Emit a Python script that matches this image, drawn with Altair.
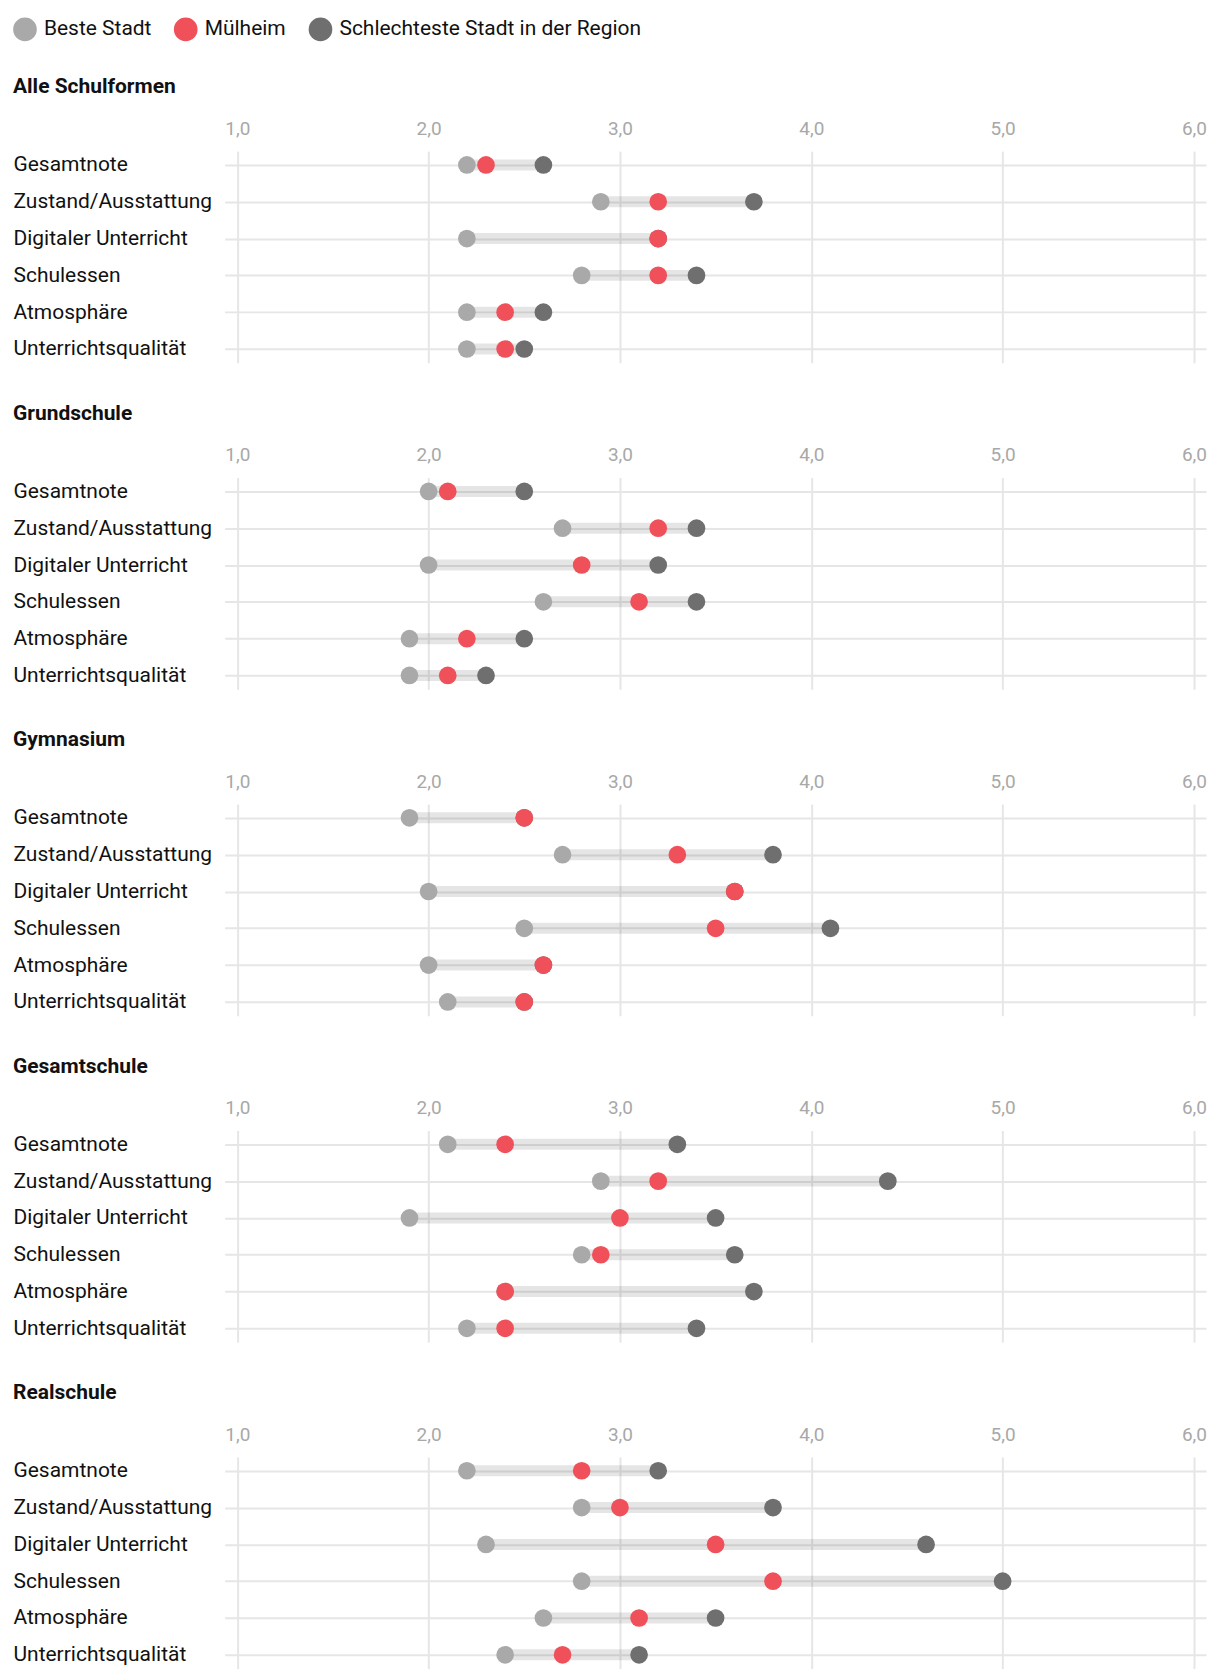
import altair as alt
import pandas as pd

sections = ["Alle Schulformen", "Grundschule", "Gymnasium", "Gesamtschule", "Realschule"]
kriterien = ["Gesamtnote", "Zustand/Ausstattung", "Digitaler Unterricht",
             "Schulessen", "Atmosphäre", "Unterrichtsqualität"]
serien = ["Beste Stadt", "Mülheim", "Schlechteste Stadt in der Region"]
farben = ["#a9a9a9", "#ef505a", "#6f6f6f"]
ticks = [1, 2, 3, 4, 5, 6]

# values grouped per section (6 criteria each)
beste_stadt = [
    2.2, 2.9, 2.2, 2.8, 2.2, 2.2,
    2.0, 2.7, 2.0, 2.6, 1.9, 1.9,
    1.9, 2.7, 2.0, 2.5, 2.0, 2.1,
    2.1, 2.9, 1.9, 2.8, 2.4, 2.2,
    2.2, 2.8, 2.3, 2.8, 2.6, 2.4,
]
muelheim = [
    2.3, 3.2, 3.2, 3.2, 2.4, 2.4,
    2.1, 3.2, 2.8, 3.1, 2.2, 2.1,
    2.5, 3.3, 3.6, 3.5, 2.6, 2.5,
    2.4, 3.2, 3.0, 2.9, 2.4, 2.4,
    2.8, 3.0, 3.5, 3.8, 3.1, 2.7,
]
schlechteste = [
    2.6, 3.7, 3.2, 3.4, 2.6, 2.5,
    2.5, 3.4, 3.2, 3.4, 2.5, 2.3,
    2.5, 3.8, 3.6, 4.1, 2.6, 2.5,
    3.3, 4.4, 3.5, 3.6, 3.7, 3.4,
    3.2, 3.8, 4.6, 5.0, 3.5, 3.1,
]

FONT = "Roboto"

wide_rows = []
long_rows = []
for si, sec in enumerate(sections):
    for ki, k in enumerate(kriterien):
        i = si * len(kriterien) + ki
        wide_rows.append({"sec": sec, "kat": k, "best": beste_stadt[i], "worst": schlechteste[i]})
        # draw order: best, worst, then Mülheim on top
        long_rows.append({"sec": sec, "kat": k, "serie": serien[0], "wert": beste_stadt[i]})
        long_rows.append({"sec": sec, "kat": k, "serie": serien[2], "wert": schlechteste[i]})
        long_rows.append({"sec": sec, "kat": k, "serie": serien[1], "wert": muelheim[i]})
wide = pd.DataFrame(wide_rows)
long = pd.DataFrame(long_rows)

xscale = alt.Scale(domain=[0.934, 6.063], nice=False, zero=False)
yscale = alt.Scale(type="point", padding=0.375)

def panel(sec, first):
    xaxis = alt.Axis(orient="top", values=ticks, grid=True, gridColor="#e6e6e6", gridWidth=2,
                     domain=False, ticks=False, tickSize=0, labelPadding=17,
                     labelBaseline="alphabetic", labelFontSize=19, labelColor="#a8a8a8",
                     labelFont=FONT, title=None,
                     labelExpr="replace(format(datum.value, '.1f'), '.', ',')")
    yaxis = alt.Axis(grid=True, gridColor="#e6e6e6", gridWidth=2, domain=False, ticks=False,
                     tickSize=0, labelAlign="left", labelPadding=212, labelFontSize=21,
                     labelLimit=0, labelColor="#111111", labelFont=FONT, title=None)
    band = alt.Chart(wide[wide.sec == sec]).mark_rule(
        strokeWidth=11, color="black", opacity=0.1
    ).encode(
        x=alt.X("best:Q", scale=xscale, axis=xaxis),
        x2="worst:Q",
        y=alt.Y("kat:N", sort=kriterien, scale=yscale, axis=yaxis),
    )
    pts = alt.Chart(long[long.sec == sec]).mark_circle(size=314, opacity=1).encode(
        x=alt.X("wert:Q", scale=xscale),
        y=alt.Y("kat:N", sort=kriterien, scale=yscale),
        color=alt.Color("serie:N", scale=alt.Scale(domain=serien, range=farben),
                        legend=alt.Legend(orient="none", legendX=-212, legendY=-134,
                                          direction="horizontal", title=None,
                                          symbolType="circle", symbolSize=560,
                                          symbolStrokeWidth=0, labelFontSize=21,
                                          labelFont=FONT, labelColor="#111111",
                                          labelLimit=0, labelOffset=7, columnPadding=22) if first else None),
    )
    return alt.layer(band, pts).properties(
        width=983, height=212,
        title=alt.TitleParams(text=sec, anchor="start", frame="bounds", fontSize=21,
                              fontWeight="bold", font=FONT, color="#111111", offset=22),
    )

chart = alt.vconcat(*[panel(s, i == 0) for i, s in enumerate(sections)], spacing=40).properties(
    padding={"left": 5, "top": 8, "right": 5, "bottom": 0}
).configure(
    font=FONT
).configure_view(
    strokeOpacity=0, strokeWidth=0
)

chart.save("out.html", embed_options={"renderer": "svg", "actions": False})
